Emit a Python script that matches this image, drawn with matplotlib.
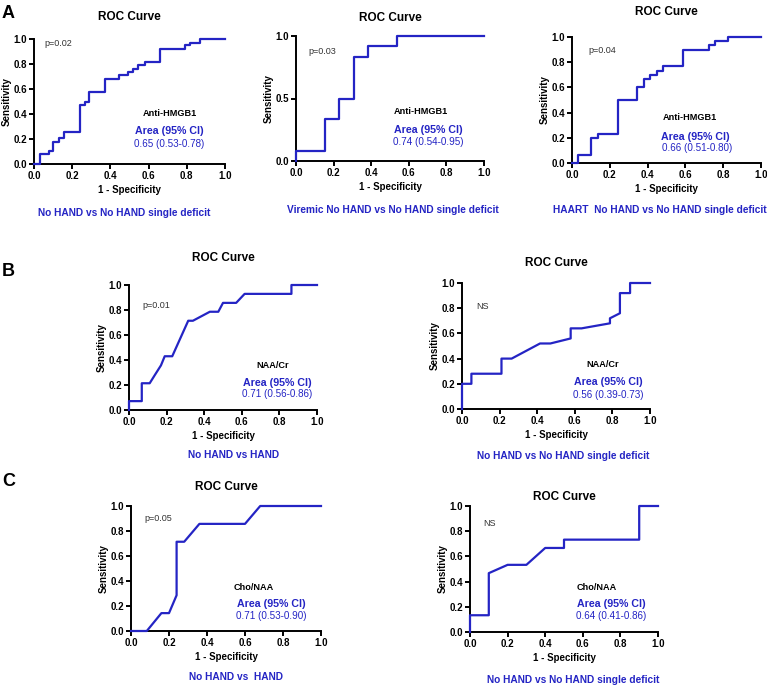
import matplotlib
matplotlib.use("Agg")
import matplotlib.pyplot as plt

plt.rcParams['font.family'] = ['Liberation Sans', 'DejaVu Sans']

BLUE = '#2424c4'
W, H = 767, 687

# --- data: ROC curve vertices (1 - specificity, sensitivity) ---
# panel A, step curves
a1_fpr = [0.0, 0.03, 0.08, 0.10, 0.13, 0.157, 0.24, 0.266, 0.29, 0.37, 0.446, 0.49, 0.52, 0.545, 0.58, 0.66, 0.79, 0.816, 0.87, 1.0]
a1_tpr = [0.0, 0.08, 0.105, 0.18, 0.21, 0.26, 0.47, 0.50, 0.58, 0.68, 0.71, 0.74, 0.76, 0.79, 0.82, 0.92, 0.95, 0.97, 1.0, 1.0]

a2_fpr = [0.0, 0.0, 0.154, 0.231, 0.308, 0.385, 0.538, 1.0]
a2_tpr = [0.0, 0.083, 0.333, 0.5, 0.833, 0.917, 1.0, 1.0]

a3_fpr = [0.0, 0.034, 0.103, 0.138, 0.241, 0.345, 0.379, 0.414, 0.448, 0.483, 0.586, 0.724, 0.759, 0.828, 1.0]
a3_tpr = [0.0, 0.067, 0.2, 0.233, 0.5, 0.6, 0.667, 0.7, 0.733, 0.767, 0.9, 0.933, 0.967, 1.0, 1.0]

# panels B and C, curves with tied segments
b1_fpr = [0.0, 0.0, 0.068, 0.068, 0.11, 0.14, 0.17, 0.19, 0.23, 0.315, 0.34, 0.43, 0.475, 0.5, 0.57, 0.615, 0.864, 0.864, 1.0]
b1_tpr = [0.0, 0.071, 0.071, 0.214, 0.214, 0.286, 0.357, 0.43, 0.43, 0.714, 0.714, 0.786, 0.786, 0.857, 0.857, 0.929, 0.929, 1.0, 1.0]

b2_fpr = [0.0, 0.0, 0.05, 0.05, 0.21, 0.21, 0.264, 0.415, 0.47, 0.578, 0.578, 0.636, 0.787, 0.787, 0.84, 0.84, 0.894, 0.894, 1.0]
b2_tpr = [0.0, 0.2, 0.2, 0.28, 0.28, 0.4, 0.4, 0.52, 0.52, 0.56, 0.64, 0.64, 0.68, 0.72, 0.76, 0.92, 0.92, 1.0, 1.0]

c1_fpr = [0.0, 0.083, 0.16, 0.2, 0.24, 0.24, 0.28, 0.36, 0.6, 0.68, 1.0]
c1_tpr = [0.0, 0.0, 0.143, 0.143, 0.286, 0.714, 0.714, 0.857, 0.857, 1.0, 1.0]

c2_fpr = [0.0, 0.0, 0.1, 0.1, 0.2, 0.3, 0.4, 0.5, 0.5, 0.9, 0.9, 1.0]
c2_tpr = [0.0, 0.133, 0.133, 0.467, 0.533, 0.533, 0.667, 0.667, 0.733, 0.733, 1.0, 1.0]

markers = ['Anti-HMGB1', 'Anti-HMGB1', 'Anti-HMGB1', 'NAA/Cr', 'NAA/Cr', 'Cho/NAA', 'Cho/NAA']
auc_text = ['0.65 (0.53-0.78)', '0.74 (0.54-0.95)', '0.66 (0.51-0.80)',
            '0.71 (0.56-0.86)', '0.56 (0.39-0.73)', '0.71 (0.53-0.90)', '0.64 (0.41-0.86)']
p_text = ['p=0.02', 'p=0.03', 'p=0.04', 'p=0.01', 'NS', 'p=0.05', 'NS']
comparisons = ['No HAND vs No HAND single deficit',
               'Viremic No HAND vs No HAND single deficit',
               'HAART  No HAND vs No HAND single deficit',
               'No HAND vs HAND',
               'No HAND vs No HAND single deficit',
               'No HAND vs  HAND',
               'No HAND vs No HAND single deficit']
curves = [(a1_fpr, a1_tpr, True), (a2_fpr, a2_tpr, True), (a3_fpr, a3_tpr, True),
          (b1_fpr, b1_tpr, False), (b2_fpr, b2_tpr, False),
          (c1_fpr, c1_tpr, False), (c2_fpr, c2_tpr, False)]

# --- layout in pixels: axes box (left, right, top, bottom), title y, subtitle (x, y) ---
boxes = [(34, 225, 39, 164), (296, 484, 36, 161), (572, 761, 37, 163),
         (129, 317, 285, 410), (462, 650, 283, 409),
         (131, 321, 506, 631), (470, 658, 506, 632)]
title_y = [17, 18, 12, 258, 263, 487, 497]
sub_xy = [(124, 213), (393, 210), (660, 210), (234, 455), (563, 456), (236, 677), (573, 680)]
p_xy = [(0.056, 0.96), (0.064, 0.88), (0.087, 0.89), (0.07, 0.84), (0.078, 0.81), (0.07, 0.90), (0.07, 0.86)]
lab_xy = [(0.71, 0.40), (0.665, 0.40), (0.625, 0.36), (0.766, 0.36), (0.75, 0.353), (0.645, 0.35), (0.675, 0.355)]
area_xy = [(0.71, 0.265), (0.705, 0.25), (0.65, 0.21), (0.79, 0.216), (0.78, 0.212), (0.74, 0.215), (0.75, 0.225)]
val_xy = [(0.71, 0.16), (0.705, 0.15), (0.66, 0.117), (0.79, 0.125), (0.78, 0.114), (0.74, 0.122), (0.75, 0.13)]

fig = plt.figure(figsize=(W / 100, H / 100), dpi=100)

for i, (fpr, tpr, stepped) in enumerate(curves):
    l, r, t, b = boxes[i]
    ax = fig.add_axes([l / W, 1 - b / H, (r - l) / W, (b - t) / H])
    if stepped:
        ax.plot(fpr, tpr, drawstyle='steps-post', color=BLUE, lw=1.6, clip_on=False, zorder=3)
    else:
        ax.plot(fpr, tpr, color=BLUE, lw=1.6, clip_on=False, zorder=3)
    ax.set_xlim(0, 1)
    ax.set_ylim(0, 1)
    ax.set_xticks([0, 0.2, 0.4, 0.6, 0.8, 1.0])
    if i == 1:
        ax.set_yticks([0, 0.5, 1.0])
    else:
        ax.set_yticks([0, 0.2, 0.4, 0.6, 0.8, 1.0])
    ax.xaxis.set_major_formatter(matplotlib.ticker.FormatStrFormatter('%.1f'))
    ax.yaxis.set_major_formatter(matplotlib.ticker.FormatStrFormatter('%.1f'))
    for s in ['top', 'right']:
        ax.spines[s].set_visible(False)
    for s in ['left', 'bottom']:
        ax.spines[s].set_linewidth(1.4)
    ax.tick_params(width=1.4, length=3.5, labelsize=7, pad=1.5)
    for lab in ax.get_xticklabels() + ax.get_yticklabels():
        lab.set_fontweight('bold')
    ax.patch.set_visible(False)

    cx = (l + r) / 2
    fig.text(cx / W, 1 - title_y[i] / H, 'ROC Curve', ha='center', va='center',
             fontsize=8.5, fontweight='bold')
    fig.text(cx / W, 1 - (b + 26) / H, '1 - Specificity', ha='center', va='center',
             fontsize=7, fontweight='bold')
    fig.text((l - 27) / W, 1 - (t + b) / 2 / H, 'Sensitivity', ha='center', va='center',
             rotation=90, fontsize=7, fontweight='bold')
    fig.text(sub_xy[i][0] / W, 1 - sub_xy[i][1] / H, comparisons[i], ha='center', va='center',
             fontsize=7.3, fontweight='bold', color=BLUE)

    ax.text(p_xy[i][0], p_xy[i][1], p_text[i], ha='left', va='center', fontsize=6.5, color='#333333')
    ax.text(lab_xy[i][0], lab_xy[i][1], markers[i], ha='center', va='center',
            fontsize=6.6, fontweight='bold')
    ax.text(area_xy[i][0], area_xy[i][1], 'Area (95% CI)', ha='center', va='center',
            fontsize=7.7, fontweight='bold', color=BLUE)
    ax.text(val_xy[i][0], val_xy[i][1], auc_text[i], ha='center', va='center',
            fontsize=7.1, color=BLUE)

for letter, y in [('A', 14), ('B', 271), ('C', 481)]:
    fig.text(2 / W, 1 - y / H, letter, ha='left', va='center', fontsize=13, fontweight='bold')

fig.savefig('out.png', dpi=100)
